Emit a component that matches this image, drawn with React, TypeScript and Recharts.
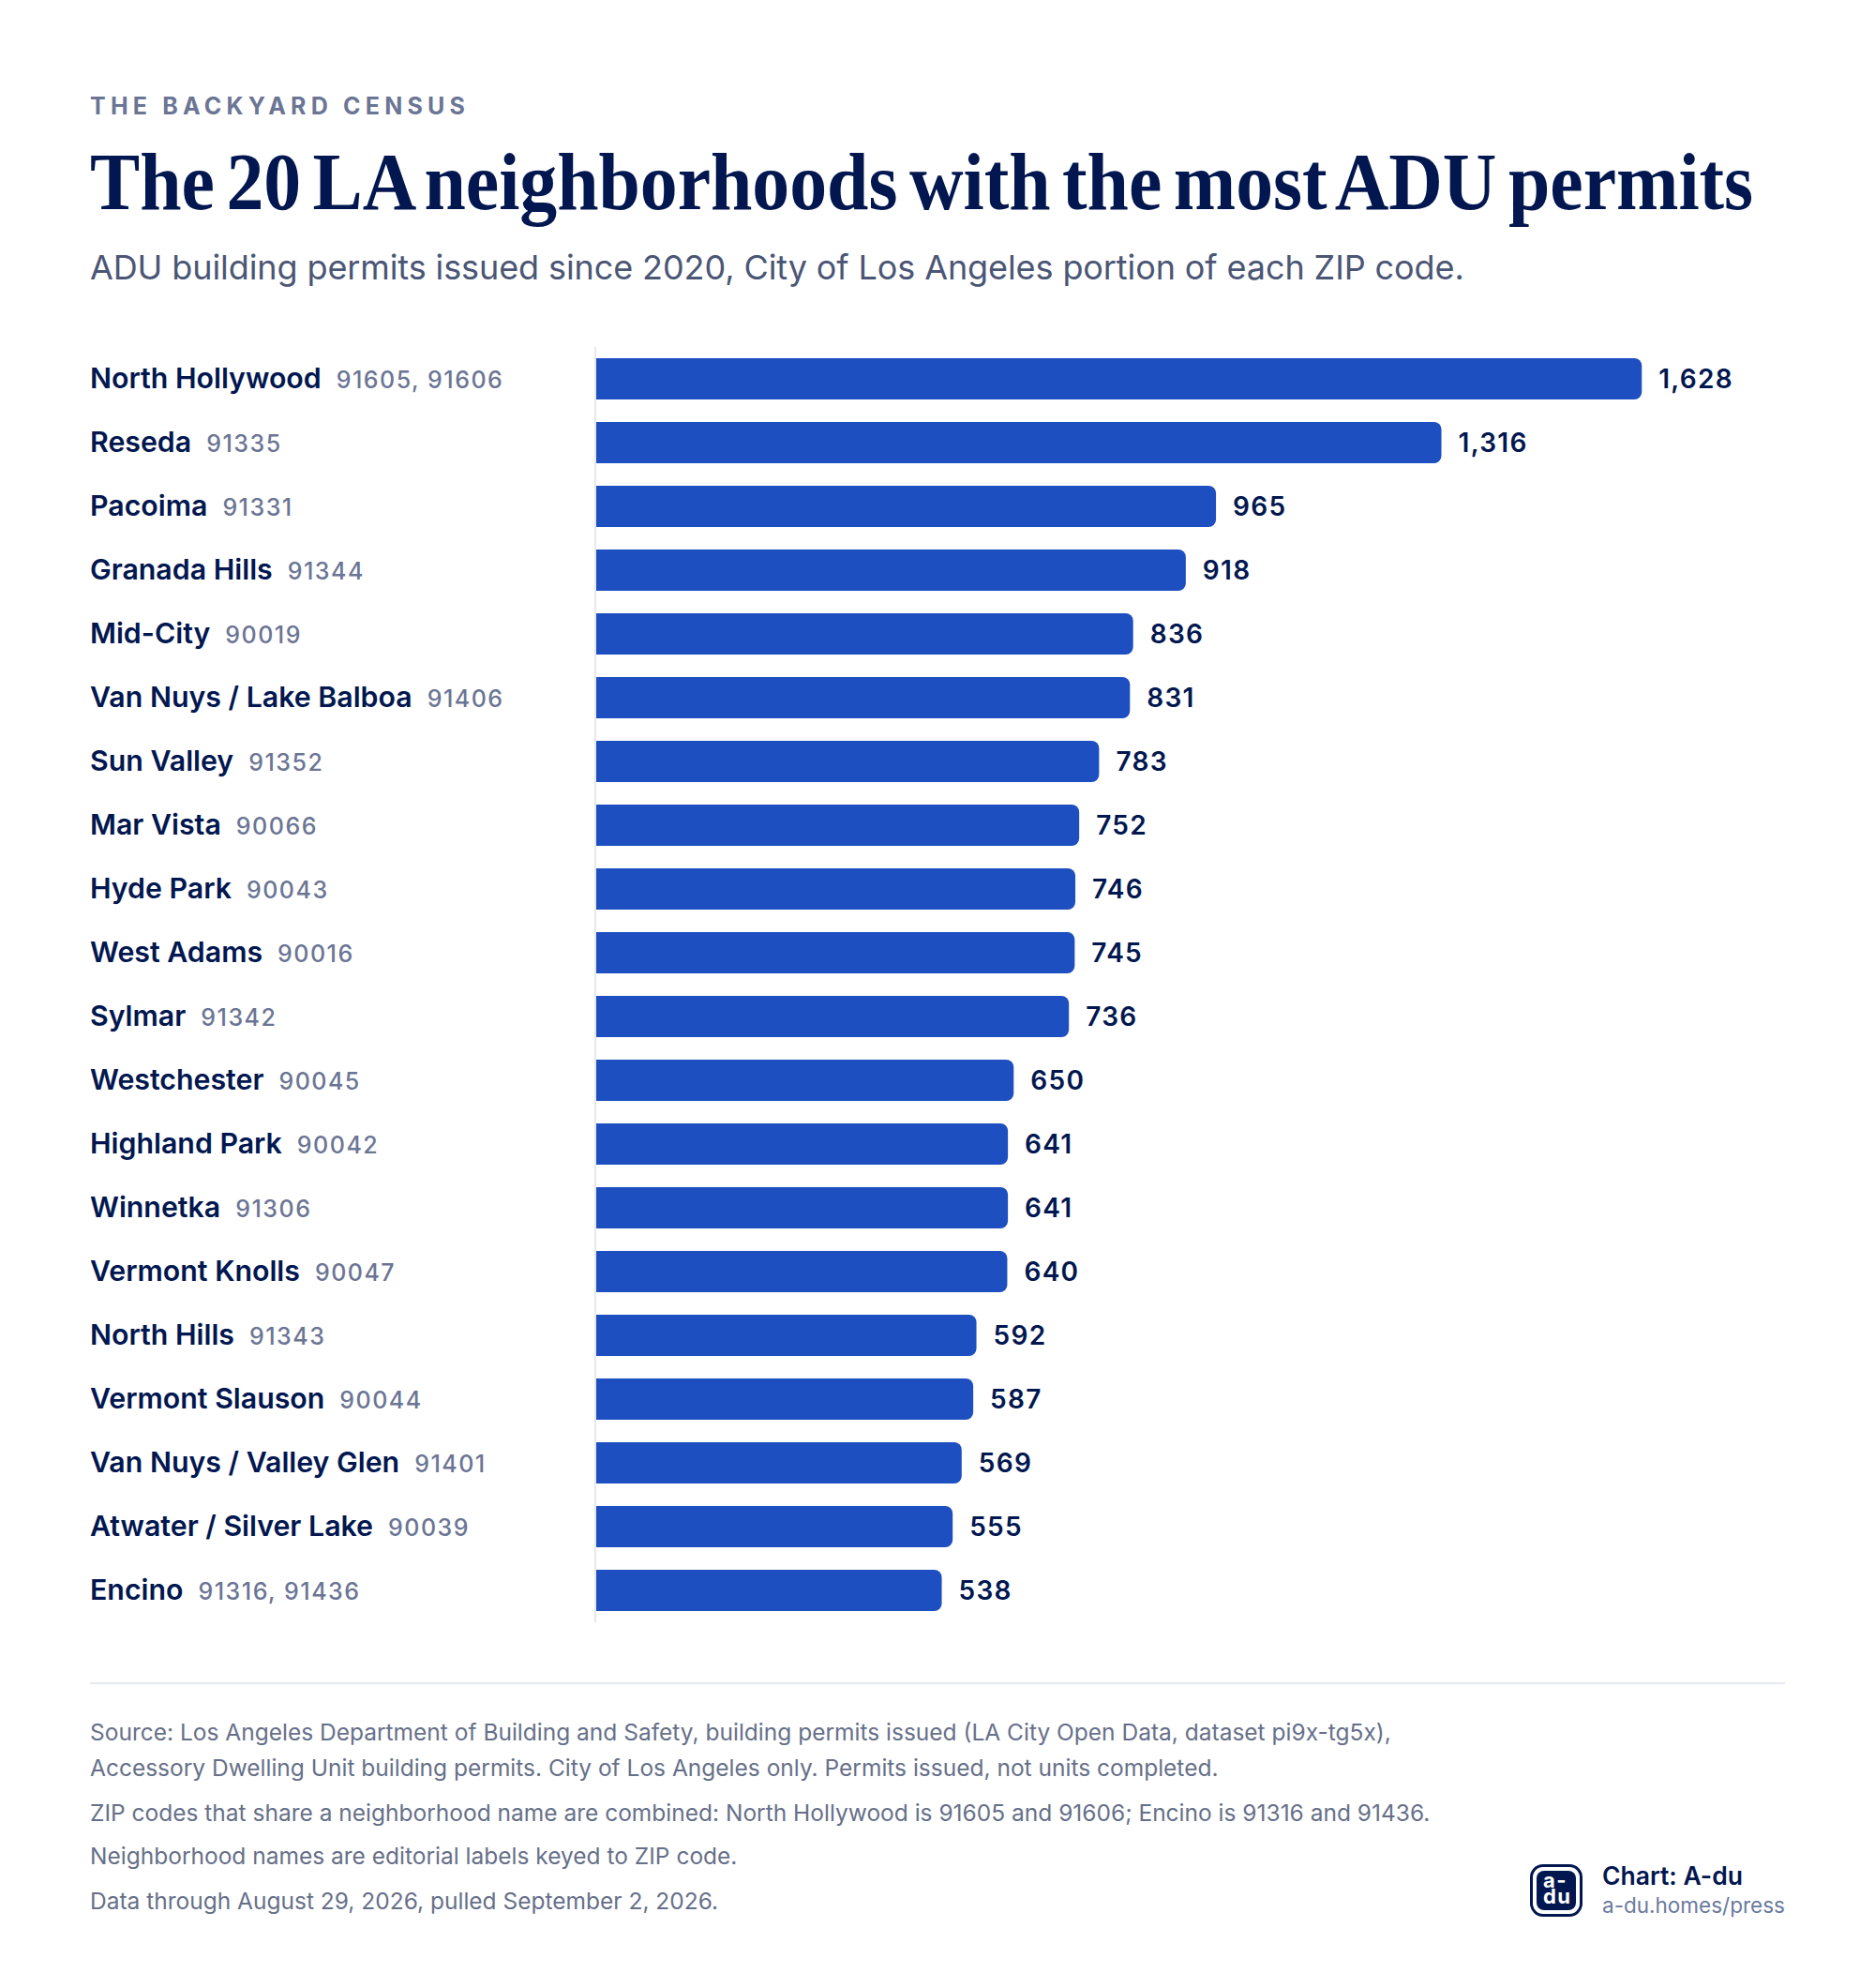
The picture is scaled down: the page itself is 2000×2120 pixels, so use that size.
import { Bar, BarChart, LabelList, XAxis, YAxis } from "recharts";

const names = [
  "North Hollywood", "Reseda", "Pacoima", "Granada Hills", "Mid-City",
  "Van Nuys / Lake Balboa", "Sun Valley", "Mar Vista", "Hyde Park", "West Adams",
  "Sylmar", "Westchester", "Highland Park", "Winnetka", "Vermont Knolls",
  "North Hills", "Vermont Slauson", "Van Nuys / Valley Glen", "Atwater / Silver Lake", "Encino",
];
const zips = [
  "91605, 91606", "91335", "91331", "91344", "90019",
  "91406", "91352", "90066", "90043", "90016",
  "91342", "90045", "90042", "91306", "90047",
  "91343", "90044", "91401", "90039", "91316, 91436",
];
const permits = [1628, 1316, 965, 918, 836, 831, 783, 752, 746, 745, 736, 650, 641, 641, 640, 592, 587, 569, 555, 538];

const data = names.map((name, i) => ({ name, zip: zips[i], permits: permits[i] }));

const SANS = "Inter, sans-serif";
const NAVY = "#02174f";
const BLUE = "#1e4fc0";

function NeighborhoodTick({ y, payload, index }: any) {
  return (
    <text x={0} y={y} dy={9.5} fontFamily={SANS} textAnchor="start">
      <tspan fontSize={30.3} fontWeight={600} fill={NAVY}>
        {payload.value}
      </tspan>
      <tspan dx={16} fontSize={25} fontWeight={500} fill="#6b7594" letterSpacing={1.5}>
        {zips[index]}
      </tspan>
    </text>
  );
}

export default function App() {
  return (
    <div style={{ position: "absolute", left: 0, top: 0, width: 2000, height: 2120, background: "#fff" }}>
      <svg width={2000} height={2120} style={{ position: "absolute", left: 0, top: 0 }}>
        <text x={96} y={122} fontFamily={SANS} fontSize={25} fontWeight={700} fill="#6b7594" letterSpacing={5.2}>
          THE BACKYARD CENSUS
        </text>
        {/* no condensed serif installed, so squeeze Liberation Serif to the title's width */}
        <text
          transform="translate(96 223) scale(0.927 1)"
          fontFamily="'Liberation Serif', serif"
          fontSize={86}
          fontWeight={700}
          fill={NAVY}
          wordSpacing={-8}
        >
          The 20 LA neighborhoods with the most ADU permits
        </text>
        <text x={96} y={298} fontFamily={SANS} fontSize={36} fill="#4b5675" letterSpacing={-0.1}>
          ADU building permits issued since 2020, City of Los Angeles portion of each ZIP code.
        </text>

        <line x1={96} x2={1904} y1={1795} y2={1795} stroke="#e6e8f0" strokeWidth={2} />

        <g fontFamily={SANS} fontSize={24.5} fill="#667089">
          <text x={96} y={1856}>Source: Los Angeles Department of Building and Safety, building permits issued (LA City Open Data, dataset pi9x-tg5x),</text>
          <text x={96} y={1894}>Accessory Dwelling Unit building permits. City of Los Angeles only. Permits issued, not units completed.</text>
          <text x={96} y={1942}>ZIP codes that share a neighborhood name are combined: North Hollywood is 91605 and 91606; Encino is 91316 and 91436.</text>
          <text x={96} y={1988}>Neighborhood names are editorial labels keyed to ZIP code.</text>
          <text x={96} y={2036}>Data through August 29, 2026, pulled September 2, 2026.</text>
        </g>

        <rect x={1632} y={1988} width={56} height={56} rx={14} fill={NAVY} />
        <rect x={1635} y={1991} width={50} height={50} rx={11} fill="#fff" />
        <rect x={1639} y={1995} width={42} height={42} rx={8} fill={NAVY} />
        <text fontFamily={SANS} fontSize={22} fontWeight={700} fill="#fff" letterSpacing={1.5}>
          <tspan x={1646} y={2013}>a-</tspan>
          <tspan x={1646} y={2030}>du</tspan>
        </text>
        <text x={1709} y={2010} fontFamily={SANS} fontSize={26.5} fontWeight={600} fill={NAVY}>Chart: A-du</text>
        <text x={1709} y={2040} fontFamily={SANS} fontSize={22.5} fill="#6b7a9e">a-du.homes/press</text>
      </svg>

      <div style={{ position: "absolute", left: 96, top: 370 }}>
        <BarChart
          layout="vertical"
          width={1808}
          height={1360}
          data={data}
          margin={{ top: 0, right: 0, bottom: 0, left: 0 }}
          barSize={44}
        >
          <XAxis type="number" domain={[0, 1851]} hide />
          <YAxis
            type="category"
            dataKey="name"
            width={540}
            interval={0}
            tickLine={false}
            axisLine={{ stroke: "#e6e8f0", strokeWidth: 2, transform: "translate(-1 0)" }}
            tick={<NeighborhoodTick />}
          />
          <Bar dataKey="permits" fill={BLUE} radius={[0, 8, 8, 0]} isAnimationActive={false}>
            <LabelList
              dataKey="permits"
              position="right"
              offset={18}
              formatter={(v: number) => v.toLocaleString("en-US")}
              style={{ fontFamily: SANS, fontSize: 28, fontWeight: 600, fill: NAVY, letterSpacing: 1.3 }}
            />
          </Bar>
        </BarChart>
      </div>
    </div>
  );
}
